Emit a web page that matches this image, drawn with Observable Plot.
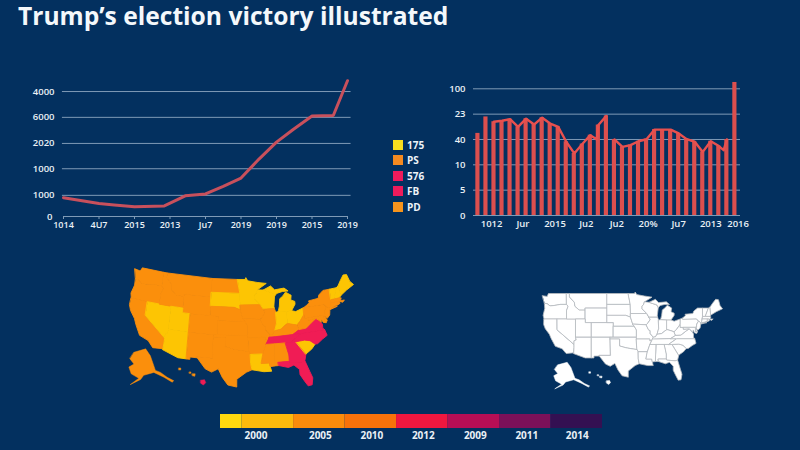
<!DOCTYPE html>
<html><head><meta charset="utf-8">
<script src="https://cdn.jsdelivr.net/npm/d3@7"></script>
<script src="https://cdn.jsdelivr.net/npm/@observablehq/plot@0.6"></script>
<style>
html,body{margin:0;padding:0;background:#03305f;width:800px;height:450px;overflow:hidden;font-family:"Open Sans","Noto Sans",sans-serif;}
#title{position:absolute;left:18px;top:0px;font-size:24.6px;font-weight:700;color:#f4f8fb;white-space:nowrap;line-height:32px;}
.p{position:absolute;}
.p svg{background:transparent;display:block;overflow:visible;}
#legend{position:absolute;left:393px;top:137px;}
.li{display:flex;align-items:center;height:15.5px;color:#eef3f8;font-size:10px;font-weight:700;}
.sw{width:10px;height:10px;margin-right:4px;display:inline-block;}
</style></head><body>
<div id="title">Trump’s election victory illustrated</div>
<div id="legend"></div>
<script>
// ---- line chart ----
const lineX=[0,1,1.43,2,2.84,3.43,4,4.5,5,5.5,6,6.47,7,7.6,8];
const lineY=[730,500,450,375,410,800,875,1170,1490,2215,2880,3370,3890,3910,5260];
const lineGridPos=[820,1850,2830,3840,4840];
const lineGridLabels=["1000","1000","2020","6000","4000"];
const lineXLabels=["1014","4U7","2015","2013","Ju7","2019","2019","2015","2019"];
// ---- bar chart ----
const barValues=[3.24,3.89,3.70,3.74,3.80,3.50,3.82,3.59,3.86,3.63,3.50,2.91,2.45,2.82,3.17,3.57,3.93,3.00,2.71,2.78,2.93,3.01,3.39,3.39,3.39,3.24,3.01,2.91,2.51,2.93,2.74,3.00,5.25];
const trendX=[2,3,4,5,6,7,8,9,10,11,12,13,14,14.8,15,16];
const trendY=[3.70,3.74,3.80,3.50,3.82,3.59,3.86,3.63,3.50,2.91,2.45,2.82,3.17,3.00,3.57,3.93];
const trend2X=[17,18,19,20,21,22,23,24,25,26,27,28,29,30,30.6,31];
const trend2Y=[3.00,2.71,2.78,2.93,3.01,3.39,3.39,3.39,3.24,3.01,2.91,2.51,2.93,2.74,2.58,3.00];
const barGridLabels=["0","5","10","40","23","100"];
const barTickPos=[1.7,5.6,9.6,13.5,17.3,21.2,25,29,32.4];
const barTickLabels=["1012","Jur","2015","Ju2","Ju2","20%","Ju7","2013","2016"];
// ---- legends ----
const legendLabels=["175","PS","576","FB","PD"];
const legendColors=["#f6de1f","#f58a20","#ee1b5c","#ee1b5c","#f6941c"];
const bandEdges=[0,0.42,1.42,2.42,3.42,4.42,5.42,6.42,7.42];
const bandColors=["#ffd90f","#fdba0c","#fb8c0b","#f8720a","#f0173f","#b70e55","#7c1059","#341052"];
const bandLabelPos=[0.69,1.94,2.94,3.94,4.95,5.95,6.93];
const bandLabels=["2000","2005","2010","2012","2009","2011","2014"];
// ---- states: lon, lat ----
const WA=[[-124.7,48.4],[-123.2,48.2],[-122.8,49],[-117,49],[-117,46],[-119,46],[-121,45.7],[-122.3,45.6],[-123.2,46.2],[-124,46.3]];
const OR=[[-124,46.3],[-123.2,46.2],[-122.3,45.6],[-121,45.7],[-119,46],[-117,46],[-116.5,45.5],[-117,44.3],[-117,42],[-120,42],[-124.2,42],[-124.5,43],[-124,44.8]];
const CA=[[-124.2,42],[-120,42],[-120,39],[-114.6,35],[-114.6,34.2],[-114.7,32.7],[-117.1,32.5],[-118.4,33.8],[-120.6,34.5],[-121.9,36.6],[-122.5,37.8],[-123.8,39.3],[-124.3,40.4]];
const NV=[[-120,42],[-114,42],[-114,36.2],[-114.6,36],[-114.6,35],[-120,39]];
const ID=[[-117,49],[-116,49],[-116,48],[-114.5,46.6],[-114.3,45.5],[-113,44.5],[-111,44.5],[-111,42],[-114,42],[-117,42],[-117,44.3],[-116.5,45.5],[-117,46]];
const MT=[[-116,49],[-104,49],[-104,45],[-111,45],[-111,44.5],[-113,44.5],[-114.3,45.5],[-114.5,46.6],[-116,48]];
const WY=[[-111,45],[-104,45],[-104,41],[-109,41],[-111,41]];
const UT=[[-114,42],[-111,42],[-111,41],[-109,41],[-109,37],[-114,37]];
const AZ=[[-114,37],[-109,37],[-109,31.3],[-111,31.3],[-114.8,32.5],[-114.7,32.7],[-114.6,34.2],[-114.6,35],[-114.6,36],[-114,36.2]];
const CO=[[-109,41],[-102,41],[-102,37],[-103,37],[-109,37]];
const NM=[[-109,37],[-103,37],[-103,32],[-106.6,32],[-106.5,31.8],[-108.2,31.8],[-108.2,31.3],[-109,31.3]];
const ND=[[-104,49],[-97.2,49],[-96.6,46],[-104,46]];
const SD=[[-104,46],[-96.6,46],[-96.5,43.5],[-96.5,42.5],[-98,43],[-104,43]];
const NE=[[-104,43],[-98,43],[-96.5,42.5],[-95.8,40.6],[-95.3,40],[-102,40],[-102,41],[-104,41]];
const KS=[[-102,40],[-95.3,40],[-94.6,39],[-94.6,37],[-102,37]];
const OK=[[-103,37],[-94.6,37],[-94.6,36.5],[-94.4,33.6],[-96,33.8],[-98,34.1],[-100,34.6],[-100,36.5],[-103,36.5]];
const TX=[[-103,36.5],[-100,36.5],[-100,34.6],[-98,34.1],[-96,33.8],[-94.4,33.6],[-94,33],[-94,31],[-93.7,29.7],[-95,29.2],[-97.2,27.7],[-97.2,26],[-99.2,26.4],[-100.5,28],[-101.5,29.8],[-103,29],[-104.5,29.6],[-106.5,31.8],[-106.6,32],[-103,32]];
const MN=[[-97.2,49],[-95.2,49],[-95,49.4],[-94.5,48.7],[-92,48.3],[-89.6,48],[-92,46.7],[-92.3,46],[-92.8,45.5],[-92.8,44.8],[-91.3,43.5],[-96.5,43.5],[-96.6,46]];
const IA=[[-96.5,43.5],[-91.3,43.5],[-90.2,41.8],[-91.1,40.7],[-91.5,40.4],[-95.8,40.6],[-96.5,42.5]];
const MO=[[-95.8,40.6],[-91.5,40.4],[-90.7,39],[-90.2,38.8],[-90.2,38],[-89.2,37],[-89.5,36.5],[-89.7,36],[-90.3,36],[-90.3,36.5],[-94.6,36.5],[-94.6,37],[-94.6,39],[-95.3,40]];
const AR=[[-94.6,36.5],[-90.3,36.5],[-90.3,36],[-89.7,36],[-90.3,35],[-91.1,33],[-94,33],[-94.4,33.6]];
const LA=[[-94,33],[-91.1,33],[-91.5,31],[-89.7,31],[-89.5,30.2],[-89.2,29.2],[-91,29.2],[-93.7,29.7],[-94,31]];
const WI=[[-92,46.7],[-90.5,46.6],[-88,45.8],[-87.6,45.1],[-87.9,43],[-87.8,42.5],[-90.6,42.5],[-91.3,43.5],[-92.8,44.8],[-92.8,45.5],[-92.3,46]];
const IL=[[-90.6,42.5],[-87.8,42.5],[-87.5,41.7],[-87.5,39.3],[-88,37.8],[-88.5,37.1],[-89.2,37],[-90.2,38],[-90.2,38.8],[-90.7,39],[-91.5,40.4],[-91.1,40.7],[-90.2,41.8]];
const MIL=[[-86.8,41.8],[-84.8,41.7],[-83.5,41.7],[-82.5,43],[-82.5,43.6],[-83.5,44],[-83.3,45],[-84.7,45.8],[-85.5,45],[-86.3,44.5],[-86.5,43]];
const MIU=[[-90.5,46.6],[-88.5,47.4],[-87.5,46.5],[-85,46.7],[-84,46],[-85.5,46],[-87,45.7],[-87.6,45.1],[-88,45.8]];
const IN=[[-87.5,41.7],[-86.8,41.8],[-84.8,41.7],[-84.8,39.1],[-85.5,38.7],[-86.5,38],[-88,37.8],[-87.5,39.3]];
const OH=[[-84.8,41.7],[-83.5,41.7],[-82.5,41.4],[-80.5,42],[-80.5,40.6],[-81.7,39.2],[-82.5,38.5],[-84.8,39.1]];
const KY=[[-89.5,36.5],[-89.2,37],[-88.5,37.1],[-88,37.8],[-86.5,38],[-85.5,38.7],[-84.8,39.1],[-82.5,38.5],[-82,37.5],[-83.7,36.6],[-88,36.5]];
const TN=[[-90.3,35],[-89.7,36],[-89.5,36.5],[-88,36.5],[-83.7,36.6],[-81.7,36.6],[-84.3,35],[-85.6,35],[-88.2,35]];
const MS=[[-91.1,33],[-90.3,35],[-88.2,35],[-88.4,30.3],[-89.5,30.2],[-89.7,31],[-91.5,31]];
const AL=[[-88.2,35],[-85.6,35],[-85,32.3],[-85,31],[-87.6,31],[-87.5,30.3],[-88.4,30.3]];
const GA=[[-85.6,35],[-83.1,35],[-81,32.1],[-81.4,30.7],[-82.2,30.5],[-84.9,30.7],[-85,31],[-85,32.3]];
const FL=[[-87.6,31],[-85,31],[-84.9,30.7],[-82.2,30.5],[-81.4,30.7],[-80.5,28.2],[-80,26.8],[-80.3,25.3],[-81.2,25.2],[-82,26.5],[-82.8,27.9],[-82.8,29],[-84,30.1],[-85.3,29.7],[-87.5,30.3]];
const SC=[[-83.1,35],[-81,35.1],[-79.7,34.8],[-78.6,33.9],[-79.5,33],[-81,32.1]];
const NC=[[-84.3,35],[-81.7,36.6],[-75.9,36.6],[-75.5,35.3],[-76.7,34.7],[-78,33.9],[-78.6,33.9],[-79.7,34.8],[-81,35.1],[-83.1,35]];
const VA=[[-83.7,36.6],[-82,37.5],[-80.3,37.6],[-79,38.5],[-77.7,39.3],[-77,38.8],[-76.3,37.9],[-76.3,37],[-75.9,36.6],[-81.7,36.6]];
const WV=[[-82.5,38.5],[-81.7,39.2],[-80.5,40.6],[-80.5,39.7],[-79.5,39.7],[-79.5,39.2],[-77.7,39.3],[-79,38.5],[-80.3,37.6],[-82,37.5]];
const PA=[[-80.5,42],[-79.8,42.3],[-79.8,42],[-75.3,42],[-74.7,41.4],[-75.2,40.7],[-75.4,39.8],[-75.7,39.7],[-79.5,39.7],[-80.5,39.7]];
const NY=[[-79.8,42],[-79.8,42.3],[-78.9,42.9],[-79,43.3],[-76.5,43.5],[-76.2,44.2],[-75,45],[-73.3,45],[-73.3,42.7],[-73.5,42],[-73.6,41],[-72,41],[-74,40.6],[-74,41],[-74.7,41.4],[-75.3,42]];
const VT=[[-73.3,45],[-71.5,45],[-72.4,43],[-72.5,42.7],[-73.3,42.7]];
const NH=[[-71.5,45],[-71,45.3],[-70.7,43.1],[-71.2,42.7],[-72.5,42.7],[-72.4,43]];
const ME=[[-71,45.3],[-70.2,46.3],[-69.2,47.4],[-68.3,47.3],[-67.8,45.7],[-67,44.8],[-69,44],[-70.7,43.1]];
const MA=[[-73.3,42.7],[-71.2,42.7],[-70.7,42.6],[-71,42],[-70,42],[-70.5,41.6],[-71.4,42],[-73.5,42]];
const CT=[[-73.5,42],[-71.8,42],[-71.8,41.3],[-73.6,41]];
const RI=[[-71.8,42],[-71.4,42],[-71.2,41.5],[-71.8,41.3]];
const NJ=[[-75.2,40.7],[-74.7,41.4],[-74,41],[-74,40.4],[-74.2,39.5],[-74.9,38.9],[-75.5,39.5],[-75.4,39.8]];
const DE=[[-75.4,39.8],[-75.7,39.7],[-75.7,38.5],[-75,38.5],[-75.5,39.5]];
const MD=[[-79.5,39.7],[-75.7,39.7],[-75.7,38.5],[-75,38.5],[-75.3,38],[-76,38.2],[-76.4,39],[-76.5,38.3],[-77,38.8],[-77.7,39.3],[-79.5,39.2]];
// insets, placed below the south-west of the map
const AK=[[-123.3,31.9],[-120.3,32.6],[-119.1,31.2],[-117.8,28.2],[-116.5,27.8],[-114.8,26.8],[-113.1,26.1],[-113.5,25.8],[-115.6,26.8],[-118.2,27.8],[-120.8,27.2],[-121.6,26.35],[-124.27,25.3],[-122.05,26.6],[-124,27.5],[-124.6,28.9],[-123.3,29.5],[-124.36,30.6]];
const HI1=[[-106.2,26.2],[-105.2,26.3],[-104.9,25.7],[-105.5,25.2],[-106.2,25.6]];
const HI2=[[-108.4,27.5],[-107.6,27.5],[-107.7,27],[-108.3,27.1]];
const HI3=[[-109.1,27.9],[-108.7,27.9],[-108.7,27.6],[-109.1,27.6]];
const HI4=[[-111.8,28.7],[-111.3,28.7],[-111.3,28.3],[-111.8,28.3]];
const YEL="#fdc503", ORA="#fb8f0c", RED="#f01c55";
const states=[
 [WA,ORA],[OR,ORA],[CA,ORA],[NV,YEL],[ID,ORA],[MT,ORA],[WY,ORA],[UT,YEL],[AZ,YEL],[CO,ORA],[NM,ORA],[ND,ORA],[SD,YEL],[NE,ORA],[KS,ORA],[OK,ORA],[TX,ORA],
 [MN,YEL],[IA,ORA],[MO,ORA],[AR,ORA],[LA,YEL],[WI,YEL],[IL,ORA],[MIL,YEL],[MIU,YEL],[IN,YEL],[OH,YEL],[KY,ORA],[TN,RED],[MS,ORA],[AL,ORA],[GA,RED],[FL,RED],[SC,YEL],[NC,RED],[VA,RED],[WV,ORA],
 [PA,ORA],[NY,ORA],[VT,YEL],[NH,YEL],[ME,YEL],[MA,ORA],[CT,ORA],[RI,ORA],[NJ,ORA],[DE,ORA],[MD,ORA]
];
const akInset=[[AK,ORA]];
const hiInset=[[HI1,RED],[HI2,ORA],[HI3,ORA],[HI4,ORA]];

const FONT='"Open Sans","Noto Sans",sans-serif';
const GRID="#7f9ab6", TXT="#eaf0f6";
function place(el,left,top){const d=document.createElement("div");d.className="p";d.style.left=left+"px";d.style.top=top+"px";d.appendChild(el);document.body.appendChild(d);}

// line chart
place(Plot.plot({
  width:352,height:178,marginLeft:63,marginRight:5,marginTop:14,marginBottom:22,
  style:{background:"transparent",color:TXT,fontFamily:FONT,fontSize:"9.5px",fontWeight:600},
  x:{domain:[0,8],axis:null},
  y:{domain:[0,5500],axis:null},
  marks:[
    Plot.ruleY(lineGridPos,{stroke:GRID,strokeWidth:1,x1:-0.03,x2:8.1}),
    Plot.ruleY([0],{stroke:GRID,strokeWidth:1}),
    Plot.axisX({ticks:d3.range(9),tickFormat:i=>lineXLabels[i],tickSize:3,tickPadding:2,stroke:GRID,label:null,fontSize:9}),
    Plot.axisY({ticks:lineGridPos,tickFormat:(d,i)=>lineGridLabels[i],tickSize:0,tickPadding:9,label:null}),
    Plot.axisY({ticks:[0],tickFormat:()=>"0",tickSize:0,tickPadding:11,label:null}),
    Plot.line(lineX.map((x,i)=>[x,lineY[i]]),{x:"0",y:"1",stroke:"#c8505c",strokeWidth:3,strokeLinejoin:"miter"})
  ]
}),0,60);

// bar chart
const bars=barValues.map((v,i)=>({i,v}));
place(Plot.plot({
  width:300,height:165,marginLeft:33,marginRight:0,marginTop:10.7,marginBottom:20,
  style:{background:"transparent",color:TXT,fontFamily:FONT,fontSize:"9.5px",fontWeight:600},
  x:{domain:[-0.55,32.7],axis:null},
  y:{domain:[0,5.3],axis:null},
  marks:[
    Plot.ruleY([1,2,3,4,5],{stroke:GRID,strokeWidth:1}),
    Plot.ruleY([0],{stroke:GRID,strokeWidth:1}),
    Plot.rectY(bars,{x1:d=>d.i-0.26,x2:d=>d.i+0.26,y1:0,y2:"v",fill:"#dc4f4e"}),
    Plot.line(trendX.map((x,i)=>[x,trendY[i]]),{x:"0",y:"1",stroke:"#e8504e",strokeWidth:2.4}),
    Plot.line(trend2X.map((x,i)=>[x,trend2Y[i]]),{x:"0",y:"1",stroke:"#e8504e",strokeWidth:2.4}),
    Plot.axisX({ticks:barTickPos,tickFormat:(d,i)=>barTickLabels[i],tickSize:0,tickPadding:5,label:null}),
    Plot.axisY({ticks:[0,1,2,3,4,5],tickFormat:i=>barGridLabels[i],tickSize:0,tickPadding:8,label:null})
  ]
}),440,70);

// legend
const lg=document.getElementById("legend");
legendLabels.forEach((t,i)=>{const r=document.createElement("div");r.className="li";r.innerHTML=`<span class="sw" style="background:${legendColors[i]}"></span>${t}`;lg.appendChild(r);});

// maps
function features(list,dx=0,dy=0){
  return list.map(([c,f])=>({type:"Feature",properties:{fill:f},geometry:{type:"Polygon",coordinates:[c.map(([a,b])=>[a+dx,b+dy]).concat([[c[0][0]+dx,c[0][1]+dy]])]}}));
}
function planar(kx,ky,x0,y0){return d3.geoTransform({point(lon,lat){this.stream.point(x0+kx*(lon+124.7),y0+ky*(49-lat));}});}
// Albers-like map: y from a stretched Albers, x halfway between Albers and plain longitude, fitted to landmarks
function stretchedAlbers(W,E,N,S){
  const A=d3.geoAlbers();
  const bx=([lon,lat])=>0.5*A([lon,lat])[0]+0.5*3.2*lon*3.6;
  const w=bx(W[0]),e=bx(E[0]),n=A(N[0])[1],s=A(S[0])[1];
  const kx=(E[1]-W[1])/(e-w),ky=(S[1]-N[1])/(s-n);
  return d3.geoTransform({point(lon,lat){this.stream.point(W[1]+kx*(bx([lon,lat])-w),N[1]+ky*(A([lon,lat])[1]-n));}});
}
place(Plot.plot({
  width:250,height:135,margin:0,style:{background:"transparent"},
  projection:stretchedAlbers([[-124.3,40.4],9],[[-67,44.8],233],[[-124.7,48.4],8.3],[[-80.3,25.3],124.3]),
  marks:[Plot.geo(features(states),{fill:d=>d.properties.fill,stroke:d=>d.properties.fill,strokeWidth:0.9})]
}),120,260);
place(Plot.plot({
  width:250,height:135,margin:0,style:{background:"transparent"},
  projection:planar(3.9,4.9,8,8),
  marks:[Plot.geo(features(akInset.concat(hiInset)),{fill:d=>d.properties.fill,stroke:d=>d.properties.fill,strokeWidth:0.5})]
}),120,260);
place(Plot.plot({
  width:200,height:115,margin:0,style:{background:"transparent"},
  projection:planar(3.12,3.64,12,13),
  marks:[
    Plot.geo(features(states),{fill:"#fff",stroke:"#b9bcc0",strokeWidth:0.8}),
    Plot.geo(features(akInset,3.5,-2.5),{fill:"#fff",stroke:"#fff",strokeWidth:0.5}),
    Plot.geo(features(hiInset,2,-1.2),{fill:"#fff",stroke:"#fff",strokeWidth:0.5})
  ]
}),530,280);

// colour band
place(Plot.plot({
  width:400,height:34,marginLeft:20,marginRight:0,marginTop:0,marginBottom:20,
  style:{background:"transparent",color:TXT,fontFamily:FONT,fontSize:"10px",fontWeight:700},
  x:{domain:[0,7.42],range:[20,402],axis:null},
  y:{domain:[0,1],axis:null},
  marks:[
    Plot.rectY(bandColors.map((c,i)=>({c,a:bandEdges[i],b:bandEdges[i+1]})),{x1:"a",x2:"b",y1:0,y2:1,fill:"c"}),
    Plot.axisX({ticks:bandLabelPos,tickFormat:(d,i)=>bandLabels[i],tickSize:0,tickPadding:3,label:null})
  ]
}),200,414);
</script></body></html>
